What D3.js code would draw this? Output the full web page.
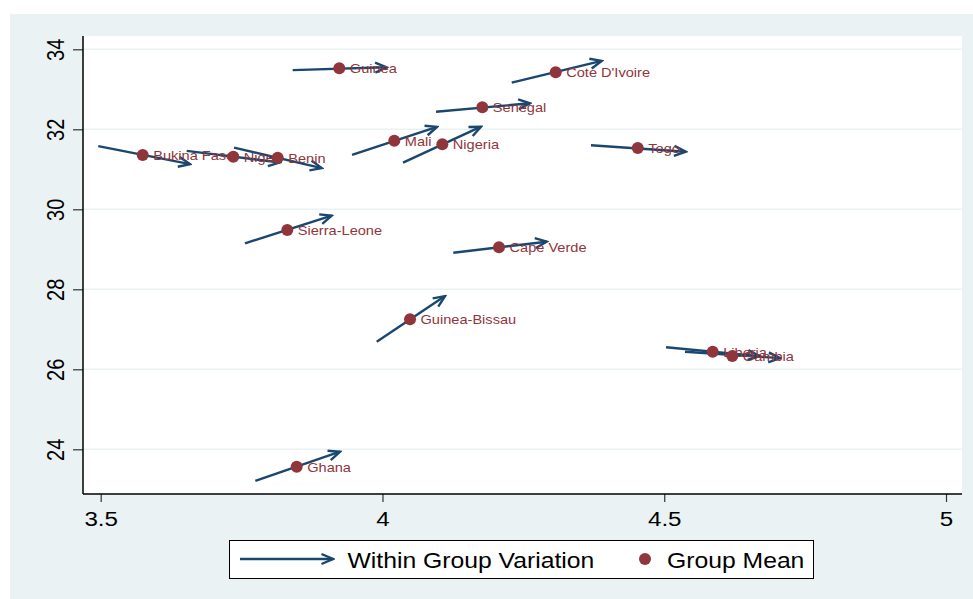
<!DOCTYPE html>
<html>
<head>
<meta charset="utf-8">
<script src="https://cdn.jsdelivr.net/npm/d3@7"></script>
<style>
  body { margin: 0; background: #ffffff; }
  svg { display: block; }
  text { font-family: "Liberation Sans", Arial, sans-serif; }
</style>
</head>
<body>
<div id="chart"></div>
<script>
// group means (x, y) and within-group arrows (start -> end)
var countries = ['Bukina Faso', 'Niger', 'Benin', 'Guinea', 'Mali', 'Nigeria', 'Senegal',
                 'Cote D\'Ivoire', 'Togo', 'Sierra-Leone', 'Cape Verde', 'Guinea-Bissau',
                 'Liberia', 'Gambia', 'Ghana'];
var mean_x  = [3.5745, 3.7353, 3.8141, 3.9234, 4.0210, 4.1062, 4.1772, 4.3074, 4.4530, 3.8311, 4.2068, 4.0489, 4.5860, 4.6208, 3.8478];
var mean_y  = [31.36, 31.315, 31.29, 33.525, 31.715, 31.625, 32.55, 33.425, 31.53, 29.48, 29.05, 27.25, 26.44, 26.33, 23.565];
var start_x = [3.4957, 3.6526, 3.7366, 3.8407, 3.9460, 4.0365, 4.0950, 4.2294, 4.3700, 3.7560, 4.1257, 3.9898, 4.5032, 4.5369, 3.7744];
var start_y = [31.58, 31.46, 31.54, 33.48, 31.36, 31.165, 32.44, 33.165, 31.60, 29.15, 28.915, 26.69, 26.55, 26.44, 23.21];
var end_x   = [3.6585, 3.8180, 3.8922, 4.0075, 4.0968, 4.1749, 4.2618, 4.3890, 4.5380, 3.9099, 4.2915, 4.1110, 4.6689, 4.7055, 3.9247];
var end_y   = [31.13, 31.17, 31.03, 33.55, 32.06, 32.065, 32.65, 33.71, 31.44, 29.84, 29.19, 27.83, 26.33, 26.28, 23.94];

var x_ticks = [3.5, 4, 4.5, 5];
var y_ticks = [24, 26, 28, 30, 32, 34];
var legend_labels = ['Within Group Variation', 'Group Mean'];

var width = 973, height = 599;
var navy = '#1a476f', maroon = '#90353b', bg = '#eaf2f3';
var stretch = 1.15; // text in the picture is a bit wider than tall

// plot region
var plot = {left: 83, right: 962, top: 36, bottom: 494};

var svg = d3.select('#chart').append('svg')
    .attr('width', width)
    .attr('height', height);

svg.append('marker')
    .attr('id', 'head')
    .attr('markerUnits', 'userSpaceOnUse')
    .attr('viewBox', '-14 -8 16 16')
    .attr('markerWidth', 16)
    .attr('markerHeight', 16)
    .attr('refX', 0)
    .attr('refY', 0)
    .attr('orient', 'auto')
  .append('path')
    .attr('d', 'M-11.5,-5 L0,0 L-11.5,5')
    .attr('fill', 'none')
    .attr('stroke', navy)
    .attr('stroke-width', 2.4);

// graph region background
svg.append('rect')
    .attr('x', 10).attr('y', 14)
    .attr('width', width - 10).attr('height', height - 14)
    .attr('fill', bg);

svg.append('rect')
    .attr('x', plot.left).attr('y', plot.top)
    .attr('width', plot.right - plot.left).attr('height', plot.bottom - plot.top)
    .attr('fill', '#ffffff');

var x_scale = d3.scaleLinear().domain([3.5, 5]).range([100.7, 946]);
var y_scale = d3.scaleLinear().domain([24, 34]).range([449.3, 49.3]);

// gridlines
svg.append('g').selectAll('line')
    .data(y_ticks)
    .enter().append('line')
    .attr('x1', plot.left).attr('x2', plot.right)
    .attr('y1', function(d) { return y_scale(d); })
    .attr('y2', function(d) { return y_scale(d); })
    .attr('stroke', bg)
    .attr('stroke-width', 1.6);

// axes
var x_axis = svg.append('g')
    .attr('transform', 'translate(0,' + plot.bottom + ')')
    .call(d3.axisBottom(x_scale).tickValues(x_ticks).tickSize(8).tickFormat(d3.format('')));
x_axis.select('.domain').remove();
x_axis.selectAll('line').attr('stroke', '#333').attr('stroke-width', 1.2);
x_axis.selectAll('text')
    .attr('x', null).attr('y', 0).attr('dy', null)
    .attr('transform', 'translate(0,31.7) scale(' + stretch + ',1)')
    .attr('font-size', 21)
    .attr('fill', '#000');

var y_axis = svg.append('g')
    .attr('transform', 'translate(' + plot.left + ',0)')
    .call(d3.axisLeft(y_scale).tickValues(y_ticks).tickSize(10));
y_axis.select('.domain').remove();
y_axis.selectAll('line').attr('stroke', '#333').attr('stroke-width', 1.2);
y_axis.selectAll('text')
    .attr('x', null).attr('y', 0).attr('dy', null)
    .attr('text-anchor', 'middle')
    .attr('transform', 'translate(-19.5,0) scale(' + stretch + ',1) rotate(-90)')
    .attr('font-size', 20)
    .attr('fill', '#000');

svg.append('line')
    .attr('x1', plot.left).attr('x2', plot.left)
    .attr('y1', plot.top).attr('y2', plot.bottom)
    .attr('stroke', '#000').attr('stroke-width', 1.5);
svg.append('line')
    .attr('x1', plot.left).attr('x2', plot.right)
    .attr('y1', plot.bottom).attr('y2', plot.bottom)
    .attr('stroke', '#000').attr('stroke-width', 1.5);

// arrows
svg.append('g').selectAll('line')
    .data(countries)
    .enter().append('line')
    .attr('x1', function(d, i) { return x_scale(start_x[i]); })
    .attr('y1', function(d, i) { return y_scale(start_y[i]); })
    .attr('x2', function(d, i) { return x_scale(end_x[i]); })
    .attr('y2', function(d, i) { return y_scale(end_y[i]); })
    .attr('stroke', navy)
    .attr('stroke-width', 2.4)
    .attr('marker-end', 'url(#head)');

// group means with labels, drawn point by point
var points = svg.append('g').selectAll('g')
    .data(countries)
    .enter().append('g');

points.append('circle')
    .attr('cx', function(d, i) { return x_scale(mean_x[i]); })
    .attr('cy', function(d, i) { return y_scale(mean_y[i]); })
    .attr('r', 6)
    .attr('fill', maroon);

points.append('text')
    .attr('transform', function(d, i) {
        return 'translate(' + (x_scale(mean_x[i]) + 10.5) + ',' + (y_scale(mean_y[i]) + 5) + ') scale(1.08,1)';
    })
    .attr('font-size', 13.5)
    .attr('fill', maroon)
    .text(function(d) { return d; });

// legend
var legend = svg.append('g');
legend.append('rect')
    .attr('x', 229.5).attr('y', 540.5)
    .attr('width', 584).attr('height', 38)
    .attr('fill', '#ffffff')
    .attr('stroke', '#000')
    .attr('stroke-width', 1);
legend.append('line')
    .attr('x1', 240).attr('x2', 333)
    .attr('y1', 559).attr('y2', 559)
    .attr('stroke', navy)
    .attr('stroke-width', 2.4)
    .attr('marker-end', 'url(#head)');
legend.append('circle')
    .attr('cx', 645).attr('cy', 559)
    .attr('r', 6)
    .attr('fill', maroon);
legend.selectAll('text')
    .data(legend_labels)
    .enter().append('text')
    .attr('transform', function(d, i) {
        return 'translate(' + (i == 0 ? 347.5 : 667) + ',567.5) scale(' + stretch + ',1)';
    })
    .attr('font-size', 21.5)
    .attr('fill', '#000')
    .text(function(d) { return d; });
</script>
</body>
</html>
